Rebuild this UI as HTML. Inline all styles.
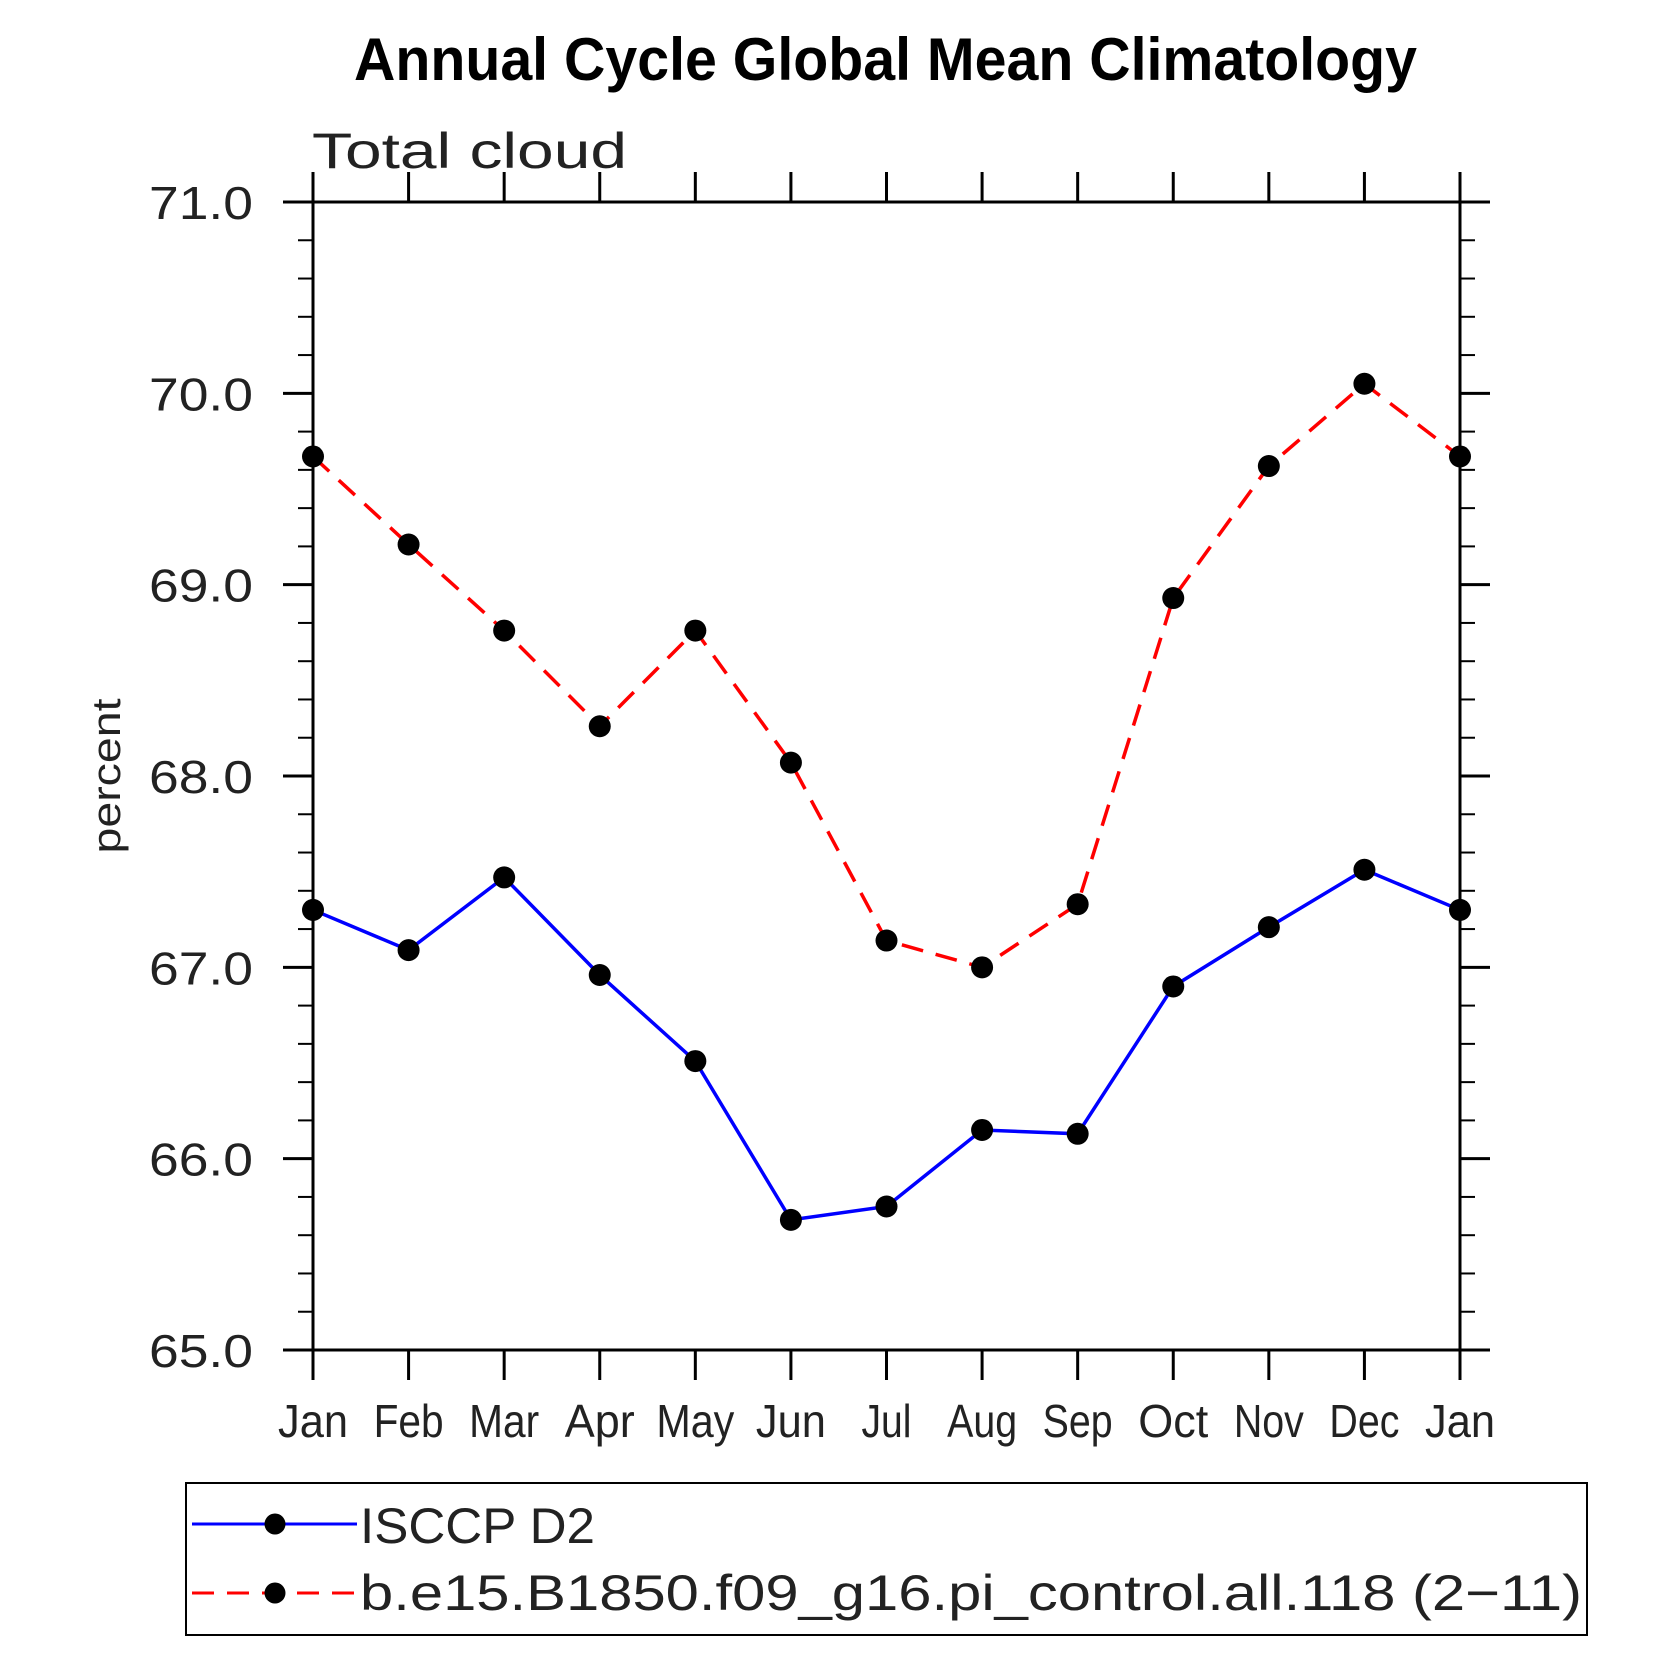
<!DOCTYPE html>
<html><head><meta charset="utf-8"><style>
html,body{margin:0;padding:0;background:#fff;}
svg{display:block;}
text{font-family:"Liberation Sans",sans-serif;}
</style></head><body>
<svg id="chart" width="1674" height="1674" viewBox="0 0 1674 1674" xmlns="http://www.w3.org/2000/svg">
<text x="354" y="80" font-size="60" font-weight="bold" textLength="1063" lengthAdjust="spacingAndGlyphs">Annual Cycle Global Mean Climatology</text>
<text x="312" y="168" font-size="50" textLength="315" lengthAdjust="spacingAndGlyphs" fill="#222">Total cloud</text>
<text transform="translate(120,776) rotate(-90)" text-anchor="middle" font-size="40" fill="#222" textLength="155" lengthAdjust="spacingAndGlyphs">percent</text>
<g id="axes"></g>
<g id="series"></g>
<g id="legend">
<rect x="186" y="1483" width="1401" height="152" fill="none" stroke="#000" stroke-width="2"/>
<g>
<line x1="192" y1="1524" x2="357" y2="1524" stroke="#00f" stroke-width="3"/>
<circle cx="275" cy="1524" r="10.5"/>
<text x="360" y="1543" font-size="50" fill="#222" textLength="235" lengthAdjust="spacingAndGlyphs">ISCCP D2</text>
</g>
<g>
<line x1="192" y1="1593" x2="357" y2="1593" stroke="#f00" stroke-width="3" stroke-dasharray="22,13"/>
<circle cx="275" cy="1593" r="10.5"/>
<text x="360" y="1610" font-size="50" fill="#222" textLength="1222" lengthAdjust="spacingAndGlyphs">b.e15.B1850.f09_g16.pi_control.all.118 (2−11)</text>
</g>
</g>
</svg>
<script>
const months = ["Jan","Feb","Mar","Apr","May","Jun","Jul","Aug","Sep","Oct","Nov","Dec","Jan"];
const isccp = [67.30,67.09,67.47,66.96,66.51,65.68,65.75,66.15,66.13,66.90,67.21,67.51,67.30];
const model = [69.67,69.21,68.76,68.26,68.76,68.07,67.14,67.00,67.33,68.93,69.62,70.05,69.67];
const yTicks = [65,66,67,68,69,70,71];
const yTickLabels = ["65.0","66.0","67.0","68.0","69.0","70.0","71.0"];

const L=313,R=1460,T=202,B=1350;
const NS="http://www.w3.org/2000/svg";
function x(i){return L+(R-L)*i/(months.length-1);}
function y(v){return B-(v-65)/(71-65)*(B-T);}
function mk(tag,attrs,parent){const e=document.createElementNS(NS,tag);for(const k in attrs)e.setAttribute(k,attrs[k]);parent.appendChild(e);return e;}
const ax=document.getElementById('axes');
const frame=mk('rect',{x:L,y:T,width:R-L,height:B-T,fill:'none',stroke:'#000','stroke-width':3},ax);


mk('line',{x1:L-30,y1:T,x2:R+30,y2:T,stroke:'#000','stroke-width':3},ax);
mk('line',{x1:L-30,y1:B,x2:R+30,y2:B,stroke:'#000','stroke-width':3},ax);
months.forEach((m,i)=>{
  const xx=x(i);
  mk('line',{x1:xx,y1:T-30,x2:xx,y2:T,stroke:'#000','stroke-width':3},ax);
  mk('line',{x1:xx,y1:B,x2:xx,y2:B+30,stroke:'#000','stroke-width':3},ax);
  const t=mk('text',{x:xx,y:1437,'text-anchor':'middle','font-size':46,fill:'#222',textLength:(m==='May'?78:(m==='Jul'?50:70)),lengthAdjust:'spacingAndGlyphs'},ax);
  t.textContent=m;
  
  
});
yTicks.forEach((v,i)=>{
  const yy=y(v);
  mk('line',{x1:L-30,y1:yy,x2:L,y2:yy,stroke:'#000','stroke-width':3},ax);
  mk('line',{x1:R,y1:yy,x2:R+30,y2:yy,stroke:'#000','stroke-width':3},ax);
  const t=mk('text',{x:253,y:yy+17,'text-anchor':'end','font-size':46,fill:'#222',textLength:104,lengthAdjust:'spacingAndGlyphs'},ax);
  t.textContent=yTickLabels[i];
  
  
  if(i<yTicks.length-1){
    for(let k=1;k<5;k++){
      const my=y(v+k*0.2);
      mk('line',{x1:L-15,y1:my,x2:L,y2:my,stroke:'#000','stroke-width':2},ax);
      mk('line',{x1:R,y1:my,x2:R+15,y2:my,stroke:'#000','stroke-width':2},ax);
    }
  }
});
const sg=document.getElementById('series');
function drawSeries(vals,color,dash,name){
  const pts=vals.map((v,i)=>x(i)+','+y(v)).join(' ');
  const pl=mk('polyline',{points:pts,fill:'none',stroke:color,'stroke-width':3.5},sg);
  if(dash)pl.setAttribute('stroke-dasharray',dash);
  
  
  vals.forEach((v,i)=>{
    const c=mk('circle',{cx:x(i),cy:y(v),r:11,fill:'#000'},sg);
    
    
  });
}
drawSeries(isccp,'#00f',null,'isccp');
drawSeries(model,'#f00','22,13','model');
</script>
</body></html>
